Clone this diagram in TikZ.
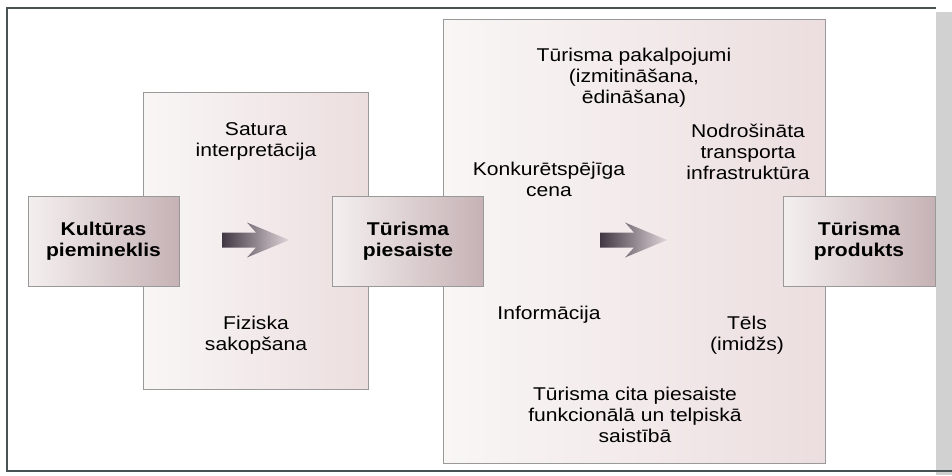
\documentclass[tikz,border=0pt]{standalone}
\usepackage{fontspec}
\setmainfont[FakeStretch=1.14]{Liberation Sans}
\usetikzlibrary{positioning}
\definecolor{kastegaisa}{RGB}{244,239,239}
\definecolor{kastetumsa}{RGB}{198,178,181}
\definecolor{laukgaisa}{RGB}{249,246,246}
\definecolor{laukrozs}{RGB}{236,222,223}
\definecolor{bultatumsa}{RGB}{66,56,68}
\definecolor{bultagaisa}{RGB}{222,212,216}
\definecolor{ramis}{RGB}{72,84,84}
\newcommand{\teksts}{\fontsize{18.5}{21}\selectfont}
\newcommand{\bulta}[1]{%
  \shade[bultas,shift={(#1,240)}] (-67,-7.5) -- (-33,-7.5) -- (-42,-17.5) -- (0,0)
    -- (-42,17.5) -- (-33,7.5) -- (-67,7.5) -- cycle;}
\tikzset{
  lauks/.style={draw=black!40,left color=laukgaisa,right color=laukrozs},
  kaste/.style={draw=black!40,left color=kastegaisa,right color=kastetumsa,
    minimum width=151pt,minimum height=90pt,inner sep=0pt,align=center,
    font=\teksts\bfseries},
  uzraksts/.style={align=center,font=\teksts,inner sep=0pt},
  bultas/.style={left color=bultatumsa,right color=bultagaisa},
}

\begin{document}
\begin{tikzpicture}[x=1pt,y=-1pt]
  \useasboundingbox (0,0) rectangle (952,475);
  % ramis
  \fill[black!18] (936,12) rectangle (952,475);
  \draw[ramis,line width=2pt] (936,8) -- (7,8) -- (7,471) -- (952,471);
  % lielie lauki
  \draw[lauks] (143,92) rectangle (368,389);
  \draw[lauks] (443,19) rectangle (825,463);
  % kastes
  \node[kaste] (piemineklis) at (103.5,241) {Kultūras\\piemineklis};
  \node[kaste] (piesaiste) at (408,241) {Tūrisma\\piesaiste};
  \node[kaste,minimum width=152pt] (produkts) at (859,241) {Tūrisma\\produkts};
  % bultas
  \bulta{289}
  \bulta{667}
  % pirmais lauks
  \node[uzraksts] (interpretacija) at (256,141) {Satura\\interpretācija};
  \node[uzraksts] (sakopsana) at (256,335) {Fiziska\\sakopšana};
  % otrais lauks
  \node[uzraksts] (pakalpojumi) at (634,78) {Tūrisma pakalpojumi\\(izmitināšana,\\ēdināšana)};
  \node[uzraksts] (transports) at (748,152) {Nodrošināta\\transporta\\infrastruktūra};
  \node[uzraksts] (cena) at (549,179) {Konkurētspējīga\\cena};
  \node[uzraksts] (informacija) at (549,315) {Informācija};
  \node[uzraksts] (tels) at (747,335) {Tēls\\(imidžs)};
  \node[uzraksts] (saistiba) at (635,415) {Tūrisma cita piesaiste\\funkcionālā un telpiskā\\saistībā};
\end{tikzpicture}
\end{document}
